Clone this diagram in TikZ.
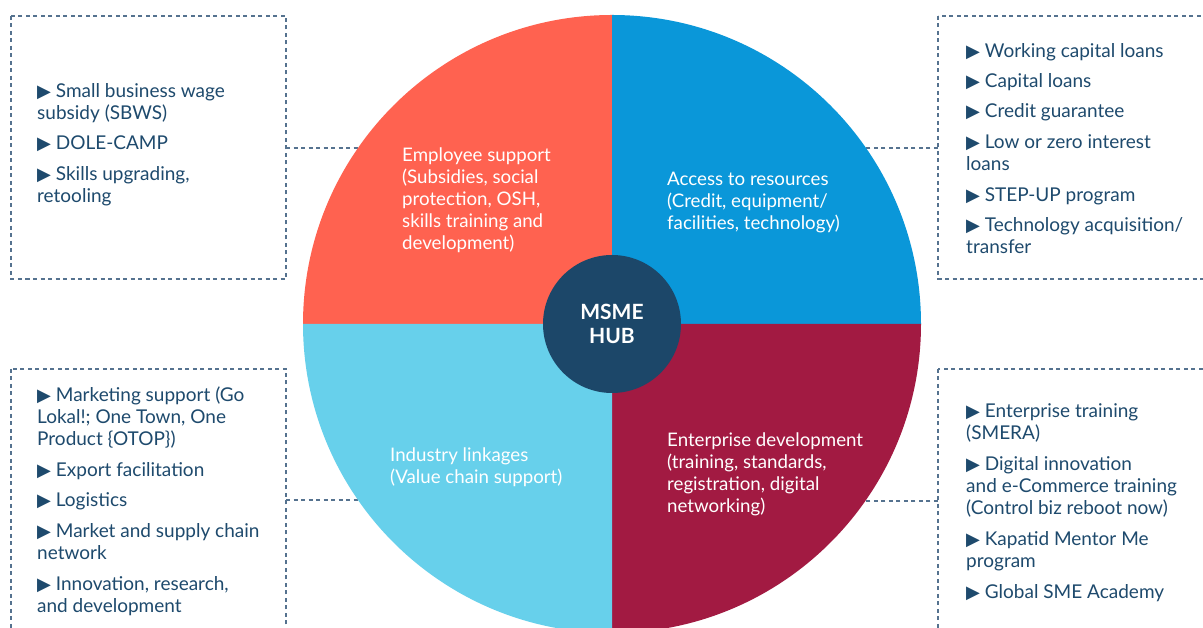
\documentclass[tikz,border=0pt]{standalone}
\usepackage{fontspec}
\setmainfont{Lato}
\newfontfamily\symfont{DejaVu Sans}
\definecolor{coral}{HTML}{FF6250}
\definecolor{skyblue}{HTML}{0A97D9}
\definecolor{lightblue}{HTML}{67D0EB}
\definecolor{crimson}{HTML}{A21A42}
\definecolor{hubnavy}{HTML}{1C4769}
\definecolor{textnavy}{HTML}{1E4A6D}
\definecolor{dashgray}{HTML}{55728F}
\newcommand\bultri{{\symfont\fontsize{18}{18}\selectfont ▶}}
\tikzset{
  itemtext/.style={anchor=north west, inner sep=0pt, align=left, text=textnavy,
    font=\fontsize{19}{22}\selectfont, yshift=-1pt},
  quadtext/.style={anchor=north west, inner sep=0pt, align=left, text=white,
    font=\fontsize{18.7}{22}\selectfont, yshift=-1pt},
  dashbox/.style={draw=dashgray, line width=1.1pt, dash pattern=on 4pt off 3.5pt},
  conn/.style={draw=dashgray, line width=1.1pt, dash pattern=on 4pt off 3.5pt},
}
\begin{document}
\begin{tikzpicture}[x=1pt,y=1pt]
\useasboundingbox (0,0) rectangle (1203,628);
\clip (0,0) rectangle (1203,628);
\fill[white] (0,0) rectangle (1203,628);
% dashed boxes
\draw[dashbox] (11,612) rectangle (286,349);
\draw[dashbox] (938,612) rectangle (1215,349);
\draw[dashbox] (11,259) rectangle (286,-20);
\draw[dashbox] (938,259) rectangle (1215,-20);
\node[inner sep=0pt, minimum width=275pt, minimum height=263pt] (boxTL) at (148.5,480.5) {};
\node[inner sep=0pt, minimum width=277pt, minimum height=263pt] (boxTR) at (1076.5,480.5) {};
\node[inner sep=0pt, minimum width=275pt, minimum height=279pt] (boxBL) at (148.5,119.5) {};
\node[inner sep=0pt, minimum width=277pt, minimum height=279pt] (boxBR) at (1076.5,119.5) {};
% connector end points on the wheel
\coordinate (cTL) at (370,480);
\coordinate (cTR) at (855,480);
\coordinate (cBL) at (370,128);
\coordinate (cBR) at (855,127);
\draw[conn] (boxTL.east |- cTL) -- (cTL);
\draw[conn] (boxTR.west |- cTR) -- (cTR);
\draw[conn] (boxBL.east |- cBL) -- (cBL);
\draw[conn] (boxBR.west |- cBR) -- (cBR);
% wheel
\coordinate (C) at (612,304);
\fill[coral] (C) -- (303,304) arc[start angle=180,end angle=90,radius=309pt] -- cycle;
\fill[skyblue] (C) -- (612,613) arc[start angle=90,end angle=0,radius=309pt] -- cycle;
\fill[crimson] (C) -- (921,304) arc[start angle=0,end angle=-90,radius=309pt] -- cycle;
\fill[lightblue] (C) -- (612,-5) arc[start angle=-90,end angle=-180,radius=309pt] -- cycle;
\node[circle, fill=hubnavy, minimum size=138pt, inner sep=0pt, text=white, align=center,
  font=\bfseries\fontsize{21}{24}\selectfont] (hub) at (C) {MSME\\HUB};
% quadrant labels
\node[quadtext] (qTL) at (402,482.9) {\strut Employee support\\(Subsidies, social\\protection, OSH,\\skills training and\\development)};
\node[quadtext] (qTR) at (667,458.9) {\strut Access to resources\\(Credit, equipment/\\facilities, technology)};
\node[quadtext] (qBL) at (390,182.9) {\strut Industry linkages\\(Value chain support)};
\node[quadtext] (qBR) at (667,197.9) {\strut Enterprise development\\(training, standards,\\registration, digital\\networking)};
% top-left items
\node[itemtext] (tl1) at (37,546.9) {\strut\bultri\ Small business wage\\subsidy (SBWS)};
\node[itemtext] (tl2) at (37,494.9) {\strut\bultri\ DOLE-CAMP};
\node[itemtext] (tl3) at (37,463.9) {\strut\bultri\ Skills upgrading,\\retooling};
% top-right items
\node[itemtext] (tr1) at (966,586.9) {\strut\bultri\ Working capital loans};
\node[itemtext] (tr2) at (966,556.9) {\strut\bultri\ Capital loans};
\node[itemtext] (tr3) at (966,526.9) {\strut\bultri\ Credit guarantee};
\node[itemtext] (tr4) at (966,495.9) {\strut\bultri\ Low or zero interest\\loans};
\node[itemtext] (tr5) at (966,442.9) {\strut\bultri\ STEP-UP program};
\node[itemtext] (tr6) at (966,412.9) {\strut\bultri\ Technology acquisition/\\transfer};
% bottom-left items
\node[itemtext] (bl1) at (37,242.9) {\strut\bultri\ Marketing support (Go\\Lokal!; One Town, One\\Product \{OTOP\})};
\node[itemtext] (bl2) at (37,167.9) {\strut\bultri\ Export facilitation};
\node[itemtext] (bl3) at (37,137.9) {\strut\bultri\ Logistics};
\node[itemtext] (bl4) at (37,106.9) {\strut\bultri\ Market and supply chain\\network};
\node[itemtext] (bl5) at (37,53.9) {\strut\bultri\ Innovation, research,\\and development};
% bottom-right items
\node[itemtext] (br1) at (966,226.9) {\strut\bultri\ Enterprise training\\(SMERA)};
\node[itemtext] (br2) at (966,173.9) {\strut\bultri\ Digital innovation\\and e-Commerce training\\(Control biz reboot now)};
\node[itemtext] (br3) at (966,98.9) {\strut\bultri\ Kapatid Mentor Me\\program};
\node[itemtext] (br4) at (966,45.9) {\strut\bultri\ Global SME Academy};
\end{tikzpicture}
\end{document}
